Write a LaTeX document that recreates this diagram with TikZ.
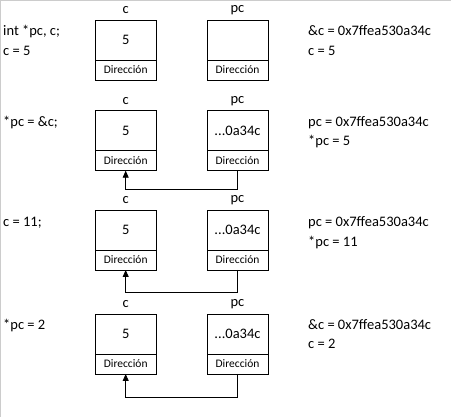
\documentclass[tikz,border=0pt]{standalone}
\usepackage{fontspec}
\setmainfont{Carlito}
\usetikzlibrary{arrows.meta,positioning}
\definecolor{framegray}{rgb}{0.80,0.80,0.80}

\begin{document}
\begin{tikzpicture}[
  x=1pt, y=-1pt,
  txt/.style={anchor=base west, inner sep=0pt, font=\fontsize{14.5}{17}\selectfont},
  varname/.style={inner sep=0pt, font=\fontsize{14.5}{17}\selectfont},
  val/.style={draw, line width=0.8pt, outer sep=0pt, inner sep=0pt,
              minimum width=61pt, minimum height=40pt,
              font=\fontsize{14.5}{17}\selectfont},
  addr/.style={draw, line width=0.8pt, outer sep=0pt, inner sep=0pt,
               minimum width=61pt, minimum height=20pt,
               font=\fontsize{11.5}{13}\selectfont},
  ptr/.style={-{Triangle[width=6pt,length=7pt]}, line width=0.8pt}
]
\useasboundingbox (0,0) rectangle (451,417);
\draw[framegray, line width=1pt] (0.5,417) -- (0.5,0.5) -- (451,0.5);

% --- memory cells, one row per step ---
\foreach \i/\y/\v in {1/20/{}, 2/110.7/{...0a34c}, 3/210/{...0a34c}, 4/314/{...0a34c}} {
  \node[varname] (cn\i) at (125.7,\y-10) {c};
  \node[varname] (pn\i) at (237.5,\y-10) {pc};
  \node[val] (cv\i) at (125.7,\y+20) {5};
  \node[addr, below=0pt of cv\i] (ca\i) {Dirección};
  \node[val] (pv\i) at (237.5,\y+20) {\v};
  \node[addr, below=0pt of pv\i] (pa\i) {Dirección};
}

% --- pc points to c ---
\foreach \i/\d in {2/19,3/22,4/23}
  \draw[ptr] (pa\i.south) -- ++(0,\d) -| (ca\i.south);

% --- code (left) ---
\node[txt] (code1a) at (3,36) {int *pc, c;};
\node[txt] (code1b) at (3,56) {c = 5};
\node[txt] (code2) at (3,127) {*pc = \&c;};
\node[txt] (code3) at (3,226.5) {c = 11;};
\node[txt] (code4) at (3,330) {*pc = 2};

% --- values (right) ---
\node[txt] (out1a) at (308,36) {\&c = 0x7ffea530a34c};
\node[txt] (out1b) at (308,56) {c = 5};
\node[txt] (out2a) at (308,127) {pc = 0x7ffea530a34c};
\node[txt] (out2b) at (308,146) {*pc = 5};
\node[txt] (out3a) at (308,227) {pc = 0x7ffea530a34c};
\node[txt] (out3b) at (308,247) {*pc = 11};
\node[txt] (out4a) at (308,330) {\&c = 0x7ffea530a34c};
\node[txt] (out4b) at (308,349) {c = 2};

\end{tikzpicture}
\end{document}
